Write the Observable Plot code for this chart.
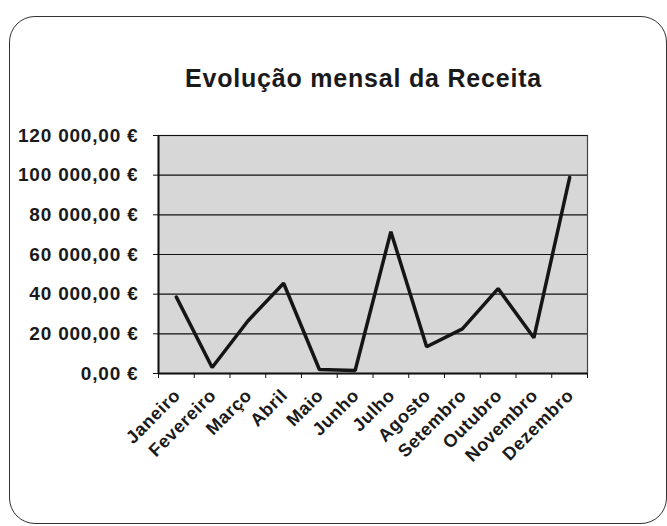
<!DOCTYPE html>
<html><head><meta charset="utf-8">
<script src="https://cdn.jsdelivr.net/npm/d3@7"></script>
<script src="https://cdn.jsdelivr.net/npm/@observablehq/plot@0.6"></script>
<style>
body{margin:0;background:#fff;}
#wrap{position:relative;width:667px;height:526px;overflow:hidden;font-family:"Liberation Sans",Arial,sans-serif;}
#border{position:absolute;left:9px;top:16px;width:658px;height:508px;border:1.6px solid #333;border-radius:26px;box-sizing:border-box;}
#title{position:absolute;left:185px;top:66px;font-size:25px;line-height:25px;font-weight:bold;color:#1a1a1a;letter-spacing:0.8px;white-space:nowrap;}
#chart{position:absolute;left:0;top:0;}
#chart .ylab text{letter-spacing:0.8px;}
#chart .xlab text{letter-spacing:0.6px;}
</style></head>
<body>
<div id="wrap">
  <div id="border"></div>
  <div id="chart"></div>
  <div id="title">Evolução mensal da Receita</div>
</div>
<script>
const months = ["Janeiro","Fevereiro","Março","Abril","Maio","Junho","Julho","Agosto","Setembro","Outubro","Novembro","Dezembro"];
const receita = [38500, 3000, 26500, 45500, 2000, 1500, 71500, 13500, 22500, 42800, 18000, 98800];
const yTicks = [0, 20000, 40000, 60000, 80000, 100000, 120000];

const pt = d3.formatLocale({decimal: ",", thousands: " ", grouping: [3], currency: ["", " €"]});
const fmt = v => pt.format(",.2f")(v) + " €";

const data = months.map((m, i) => ({i, m, v: receita[i]}));
const bounds = d3.range(months.length + 1);

const plot = Plot.plot({
  width: 667, height: 526,
  marginLeft: 158, marginRight: 80, marginTop: 135, marginBottom: 153,
  style: {fontFamily: "'Liberation Sans', Arial, sans-serif", fontWeight: "bold", color: "#1a1a1a", background: "transparent"},
  x: {type: "linear", domain: [0, months.length], axis: null},
  y: {domain: [0, 120000], axis: null},
  marks: [
    Plot.frame({fill: "#d7d7d7", stroke: "#444", strokeWidth: 1.2}),
    Plot.gridY(yTicks, {stroke: "#111", strokeOpacity: 1, strokeWidth: 1.2}),
    Plot.axisY(yTicks, {tickSize: 5, tickPadding: 15, tickFormat: fmt, fontSize: 19, stroke: "#111", label: null, className: "ylab"}),
    Plot.axisX(bounds, {tickSize: 5, tickFormat: () => "", stroke: "#111", label: null}),
    Plot.ruleY([0], {stroke: "#111", strokeWidth: 2}),
    Plot.ruleX([0], {stroke: "#111", strokeWidth: 2}),
    Plot.line(data, {x: d => d.i + 0.5, y: "v", stroke: "#151515", strokeWidth: 3.5, strokeLinejoin: "miter"}),
    Plot.text(data, {x: d => d.i + 0.5, frameAnchor: "bottom", text: "m", rotate: -45, textAnchor: "end", dx: 5, dy: 23, fontSize: 18, fill: "#1a1a1a", className: "xlab"})
  ]
});
document.getElementById("chart").appendChild(plot);
</script>
</body></html>
